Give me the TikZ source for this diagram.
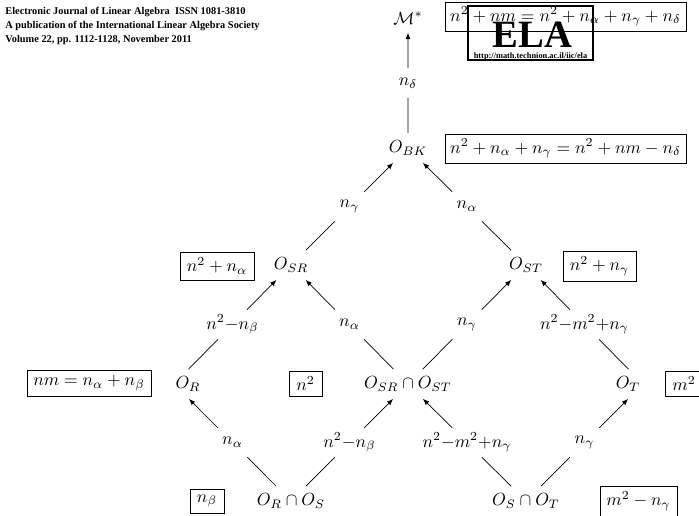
\documentclass[tikz,border=0pt]{standalone}
\usepackage{amsmath}
\usepackage{fontspec}
\usetikzlibrary{shapes,arrows.meta,positioning,calc}
\setmainfont{Latin Modern Roman}
\newfontfamily\timesbold[Scale=1.0]{Liberation Serif}
\newcommand{\zerow}[1]{\makebox[0pt]{$#1$}}

\tikzset{
    vert/.style={minimum size=0.58cm, inner sep=0pt},
    dimbox/.style={draw, line width=0.4pt, inner sep=0pt},
    flow/.style={-{Latex[length=3.6pt,width=2.8pt]}, line width=0.4pt},
    seg/.style={line width=0.4pt}
}

\begin{document}
\begin{tikzpicture}
        \clip (0,0) rectangle (13.98,10.30);

        % lattice
        \node[vert] (mstar) at (8.16,9.94) {\zerow{\mathcal{M}^*}};
        \node[vert] (obk) at (8.16,7.34) {\zerow{O_{BK}}};
        \node[vert] (osr) at (5.82,5.00) {\zerow{O_{SR}}};
        \node[vert] (ost) at (10.52,5.00) {\zerow{O_{ST}}};
        \node[vert] (or) at (3.48,2.62) {\zerow{\hspace{0.56cm}O_R}};
        \node[vert] (osrst) at (8.16,2.62) {\zerow{O_{SR}\cap O_{ST}}};
        \node[vert] (ot) at (12.86,2.62) {\zerow{O_T\hspace{0.6cm}}};
        \node[vert] (oros) at (5.82,0.28) {\zerow{O_R\cap O_S}};
        \node[vert] (osot) at (10.52,0.28) {\zerow{O_S\cap O_T}};

        % edge labels
        \node[vert] (ldelta) at ($(obk)!0.5!(mstar)$) {\zerow{n_\delta}};
        \node[vert] (lgam) at ($(osr)!0.5!(obk)$) {\zerow{n_\gamma}};
        \node[vert] (lalp) at ($(ost)!0.5!(obk)$) {\zerow{n_\alpha}};
        \node[vert] (lrsr) at ($(or)!0.5!(osr)$) {\zerow{n^2{-}n_\beta}};
        \node[vert] (lxsr) at ($(osrst)!0.5!(osr)$) {\zerow{n_\alpha}};
        \node[vert] (lxst) at ($(osrst)!0.5!(ost)$) {\zerow{n_\gamma}};
        \node[vert] (ltst) at ($(ot)!0.5!(ost)$) {\zerow{n^2{-}m^2{+}n_\gamma}};
        \node[vert] (lror) at ($(oros)!0.5!(or)$) {\zerow{n_\alpha}};
        \node[vert] (lrox) at ($(oros)!0.5!(osrst)$) {\zerow{n^2{-}n_\beta}};
        \node[vert] (lsox) at ($(osot)!0.5!(osrst)$) {\zerow{n^2{-}m^2{+}n_\gamma}};
        \node[vert] (lsot) at ($(osot)!0.5!(ot)$) {\zerow{n_\gamma}};

        % connectors
        \draw[seg] (obk) -- (ldelta);
        \draw[flow] (ldelta) -- (mstar);
        \draw[seg] (osr) -- (lgam);
        \draw[flow] (lgam) -- (obk);
        \draw[seg] (ost) -- (lalp);
        \draw[flow] (lalp) -- (obk);
        \draw[seg] (or) -- (lrsr);
        \draw[flow] (lrsr) -- (osr);
        \draw[seg] (osrst) -- (lxsr);
        \draw[flow] (lxsr) -- (osr);
        \draw[seg] (osrst) -- (lxst);
        \draw[flow] (lxst) -- (ost);
        \draw[seg] (ot) -- (ltst);
        \draw[flow] (ltst) -- (ost);
        \draw[seg] (oros) -- (lror);
        \draw[flow] (lror) -- (or);
        \draw[seg] (oros) -- (lrox);
        \draw[flow] (lrox) -- (osrst);
        \draw[seg] (osot) -- (lsox);
        \draw[flow] (lsox) -- (osrst);
        \draw[seg] (osot) -- (lsot);
        \draw[flow] (lsot) -- (ot);

        % boxed dimensions
        \node[dimbox, minimum width=4.82cm, minimum height=0.58cm] (bmstar) at (11.31,9.97) {$n^2+nm=n^2+n_\alpha+n_\gamma+n_\delta$};
        \node[dimbox, minimum width=4.82cm, minimum height=0.58cm] (bobk) at (11.31,7.33) {$n^2+n_\alpha+n_\gamma=n^2+nm-n_\delta$};
        \node[dimbox, minimum width=1.48cm, minimum height=0.56cm] (bosr) at (4.34,4.98) {$n^2+n_\alpha$};
        \node[dimbox, minimum width=1.46cm, minimum height=0.60cm] (bost) at (11.99,4.98) {$n^2+n_\gamma$};
        \node[dimbox, minimum width=2.48cm, minimum height=0.52cm] (bor) at (1.78,2.64) {$nm=n_\alpha+n_\beta$};
        \node[dimbox, minimum width=0.66cm, minimum height=0.50cm] (bx) at (6.11,2.63) {$n^2$};
        \node[dimbox, minimum width=0.76cm, minimum height=0.50cm] (bot) at (13.68,2.63) {$m^2$};
        \node[dimbox, minimum width=0.68cm, minimum height=0.48cm] (boros) at (4.14,0.28) {$n_\beta$};
        \node[dimbox, minimum width=1.54cm, minimum height=0.60cm] (bosot) at (12.77,0.28) {$m^2-n_\gamma$};

        % journal header and logo
        \node[anchor=north west, inner sep=0pt, align=left, font=\timesbold\bfseries\fontsize{5.9}{8}\selectfont] (header) at (0.1,10.16) {Electronic Journal of Linear Algebra\ \ ISSN 1081-3810\\A publication of the International Linear Algebra Society\\Volume 22, pp. 1112-1128, November 2011};
        \node[draw, line width=0.6pt, minimum width=2.5cm, minimum height=1.08cm, inner sep=0pt] (logo) at (10.61,9.64) {};
        \node[inner sep=0pt, font=\timesbold\bfseries\fontsize{22}{23}\selectfont] (ela) at (10.65,9.61) {ELA};
        \node[inner sep=0pt, font=\timesbold\bfseries\fontsize{4.75}{5}\selectfont] (url) at (10.61,9.18) {http://math.technion.ac.il/iic/ela};
    \end{tikzpicture}
\end{document}
